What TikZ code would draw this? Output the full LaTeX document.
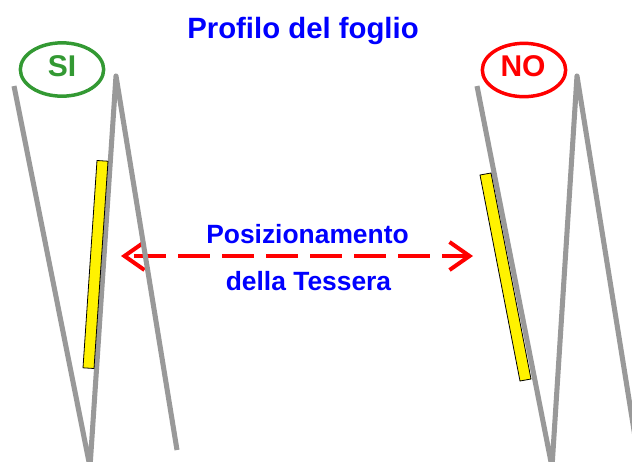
\documentclass[tikz,border=0pt]{standalone}
\usepackage{fontspec}
\setmainfont{Liberation Sans}
\usetikzlibrary{arrows.meta,shapes.geometric}

\definecolor{okgreen}{RGB}{51,153,51}
\definecolor{sheetgray}{RGB}{153,153,153}

\begin{document}
\begin{tikzpicture}[x=0.75pt,y=-0.75pt,
  sheet line/.style={draw=sheetgray,line width=3.8pt,line join=round},
  tile box/.style={fill=yellow,draw=black,line width=0.6pt},
  answer oval/.style={ellipse,draw,line width=2.6pt,inner sep=0pt,
    minimum width=62.5pt,minimum height=40pt},
  answer text/.style={font=\fontsize{22.5}{26}\selectfont\bfseries,anchor=base,inner sep=0pt},
  blue text/.style={text=blue,font=\fontsize{19.8}{24}\selectfont\bfseries,anchor=base,inner sep=0pt},
  move arrow/.style={<->,>={Straight Barb[length=15pt,width=21pt]},draw=red,
    line width=3pt,dash pattern=on 24pt off 9pt,dash phase=-6pt}]
   \useasboundingbox (0,0) rectangle (632,461);
   \clip (0,0) rectangle (632,461);

   % titolo
   \node[blue text,font=\fontsize{22}{26}\selectfont\bfseries] (title) at (303,38) {Profilo del foglio};

   % spostamento della tessera
   \coordinate (move left) at (121,256);
   \coordinate (move right) at (473,256);
   \draw[move arrow] (move left) -- (move right);
   \node[blue text] (move top) at (307.5,243) {Posizionamento};
   \node[blue text] (move bottom) at (308.5,290) {della Tessera};

   % profili del foglio
   \draw[sheet line] (14,86) -- (90,467) -- (116,76) -- (177,450);
   \draw[sheet line] (477,86) -- (552,467) -- (577,76) -- (642,480);

   % tessere
   \draw[tile box] (97,160.5) -- (108,161.2) -- (94,368.5) -- (83,367.8) -- cycle;
   \draw[tile box] (480,175) -- (491,173) -- (531,379) -- (520,381) -- cycle;

   % giusto / sbagliato
   \node[answer oval,draw=okgreen] (si oval) at (62,69.5) {};
   \node[answer text,text=okgreen] (si) at (62,76) {SI};
   \node[answer oval,draw=red] (no oval) at (524,70) {};
   \node[answer text,text=red] (no) at (523,76) {NO};
\end{tikzpicture}
\end{document}
